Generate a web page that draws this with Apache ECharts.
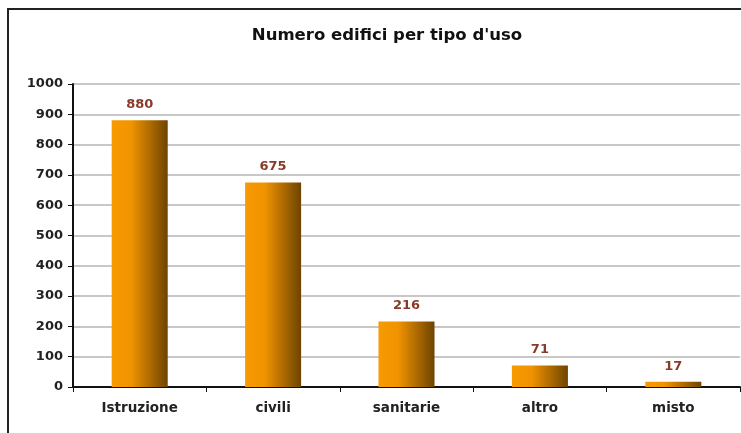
<!DOCTYPE html>
<html>
<head>
<meta charset="utf-8">
<script src="https://cdn.jsdelivr.net/npm/echarts@6/dist/echarts.min.js"></script>
<style>
  html, body { margin: 0; padding: 0; background: #fff; }
  #frame { position: absolute; left: 7px; top: 8px; width: 760px; height: 460px; border: 2px solid #222; box-sizing: border-box; }
  #main { position: absolute; left: 0; top: 0; width: 741px; height: 433px; }
</style>
</head>
<body>
<div id="frame"></div>
<div id="main"></div>
<script>
  var categories = ['Istruzione', 'civili', 'sanitarie', 'altro', 'misto'];
  var values = [880, 675, 216, 71, 17];
  var yTicks = [0, 100, 200, 300, 400, 500, 600, 700, 800, 900, 1000];

  var myChart = echarts.init(document.getElementById('main'));

  var font = 'DejaVu Sans, Liberation Sans, Arial';

  // colore barre: arancio -> marrone
  var barColor = new echarts.graphic.LinearGradient(0, 0, 1, 0, [
    { offset: 0, color: '#f89a00' },
    { offset: 0.35, color: '#f09300' },
    { offset: 1, color: '#6e4400' }
  ]);

  var option = {
    animation: false,
    title: {
      text: 'Numero edifici per tipo d\'uso',
      left: 382,
      textAlign: 'center',
      top: 22,
      textStyle: {
        fontFamily: font,
        fontSize: 16.5,
        fontWeight: 'bold',
        color: '#111'
      }
    },
    grid: {
      left: 73,
      right: 1,
      top: 84,
      bottom: 46
    },
    xAxis: {
      type: 'category',
      data: categories,
      axisLine: { lineStyle: { color: '#111', width: 2 } },
      axisTick: { show: true, length: 5, lineStyle: { color: '#111' } },
      axisLabel: {
        margin: 14,
        fontFamily: font,
        fontSize: 13.5,
        fontWeight: 'bold',
        color: '#222'
      }
    },
    yAxis: {
      type: 'value',
      min: yTicks[0],
      max: yTicks[yTicks.length - 1],
      interval: 100,
      axisLine: { show: true, lineStyle: { color: '#111', width: 2 } },
      axisTick: { show: true, length: 5, lineStyle: { color: '#111' } },
      splitLine: { lineStyle: { color: '#c8c8c8', width: 2 } },
      axisLabel: {
        margin: 10,
        fontFamily: font,
        fontSize: 13,
        fontWeight: 'bold',
        color: '#222',
        formatter: function(v) { return String(v); }
      }
    },
    series: [{
      type: 'bar',
      data: values,
      barWidth: '42%',
      itemStyle: { color: barColor },
      label: {
        show: true,
        position: 'top',
        distance: 9,
        fontFamily: font,
        fontSize: 13,
        fontWeight: 'bold',
        color: '#8a3a2a'
      }
    }]
  };

  myChart.setOption(option);
</script>
</body>
</html>
